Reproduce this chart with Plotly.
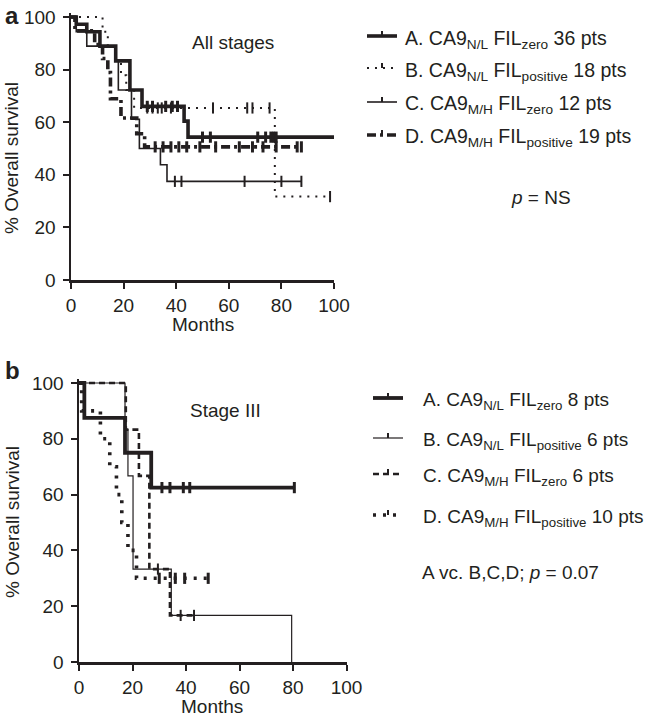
import numpy as np
import plotly.graph_objects as go

# ---------------- data: panel a (All stages) ----------------
a_A_t = [0, 2, 6, 11, 17, 22.4, 27, 43, 44.5]
a_A_s = [100, 97.2, 94.4, 88.9, 83.3, 72.2, 66.0, 60.4, 54.3]
a_A_end = 100
a_A_cens = [29, 31, 36, 38.5, 40.5, 50, 53, 71, 74, 76, 77, 78]

a_B_t = [0, 12, 14, 17, 19, 21, 24, 77.5]
a_B_s = [100, 94.4, 88.9, 83.3, 77.8, 72.2, 65.4, 31.7]
a_B_end = 98.5
a_B_cens = [29, 31, 33, 34.5, 38, 54, 67, 69, 75.5, 98.5]

a_C_t = [0, 2, 6, 17, 18, 23, 26, 34, 36.5]
a_C_s = [100, 94.4, 88.9, 83.3, 72.2, 61.1, 50.0, 43.8, 37.5]
a_C_end = 87.6
a_C_cens = [39.5, 42, 66, 80, 87.6]

a_D_t = [0, 1.5, 9, 12, 14, 15, 19, 25, 28]
a_D_s = [100, 94.7, 89.5, 84.2, 78.9, 68.9, 61.6, 55.6, 50.6]
a_D_end = 87.6
a_D_cens = [32, 35, 38, 41, 44, 49, 55, 64, 69, 73, 78, 86, 87.6]

# ---------------- data: panel b (Stage III) ----------------
b_A_t = [0, 2, 17.2, 27]
b_A_s = [100, 87.5, 75, 62.5]
b_A_end = 80.5
b_A_cens = [31, 34, 39, 41.4, 80.5]

b_B_t = [0, 17.2, 18.3, 20.2, 34.5, 79.5]
b_B_s = [100, 83.3, 66.7, 33.3, 16.7, 0]
b_B_end = 79.5
b_B_cens = []

b_C_t = [0, 17.5, 22.4, 26.3, 34]
b_C_s = [100, 83.3, 66.7, 33.3, 16.7]
b_C_end = 43
b_C_cens = [29.5, 38, 43]

b_D_t = [0, 1, 8, 11.5, 14, 16, 18.3, 21.5]
b_D_s = [100, 90, 80, 70, 60, 50, 40, 30]
b_D_end = 48.3
b_D_cens = [30, 36, 39.5, 48.3]

x_ticks = [0, 20, 40, 60, 80, 100]
y_ticks = [0, 20, 40, 60, 80, 100]

legend_a = ["A. CA9<sub>N/L</sub> FIL<sub>zero</sub> 36 pts",
            "B. CA9<sub>N/L</sub> FIL<sub>positive</sub> 18 pts",
            "C. CA9<sub>M/H</sub> FIL<sub>zero</sub> 12 pts",
            "D. CA9<sub>M/H</sub> FIL<sub>positive</sub> 19 pts"]
legend_b = ["A. CA9<sub>N/L</sub> FIL<sub>zero</sub> 8 pts",
            "B. CA9<sub>N/L</sub> FIL<sub>positive</sub> 6 pts",
            "C. CA9<sub>M/H</sub> FIL<sub>zero</sub> 6 pts",
            "D. CA9<sub>M/H</sub> FIL<sub>positive</sub> 10 pts"]

# ---------------- styling ----------------
W, H = 647, 716
INK = "#231f20"
FONT = "Liberation Sans, Arial, sans-serif"

def px(x):
    return x / W

def py(y):
    return 1 - y / H

styles_a = [dict(width=3.6, dash="solid"),
            dict(width=2.0, dash="2px,6px"),
            dict(width=1.6, dash="solid"),
            dict(width=3.6, dash="9px,4px,3px,4px")]
styles_b = [dict(width=3.8, dash="solid"),
            dict(width=1.2, dash="solid"),
            dict(width=2.6, dash="6px,4px"),
            dict(width=3.6, dash="3px,7px")]

fig = go.Figure()

def add_curve(t, s, end, cens, style, xa, ya):
    xs = list(t) + [end]
    ys = list(s) + [s[-1]]
    fig.add_trace(go.Scatter(x=xs, y=ys, mode="lines", line_shape="hv",
                             line=dict(color=INK, **style), xaxis=xa, yaxis=ya,
                             showlegend=False, hoverinfo="skip"))
    if cens:
        ta = np.array(t, dtype=float)
        idx = np.searchsorted(ta, np.array(cens, dtype=float), side="right") - 1
        cy = [s[i] for i in idx]
        fig.add_trace(go.Scatter(x=cens, y=cy, mode="markers",
                                 marker=dict(symbol="line-ns", size=8,
                                             line=dict(color=INK, width=2 if style["width"] < 3 else 3)),
                                 xaxis=xa, yaxis=ya, showlegend=False,
                                 hoverinfo="skip", cliponaxis=False))

series_a = [(a_A_t, a_A_s, a_A_end, a_A_cens), (a_B_t, a_B_s, a_B_end, a_B_cens),
            (a_C_t, a_C_s, a_C_end, a_C_cens), (a_D_t, a_D_s, a_D_end, a_D_cens)]
series_b = [(b_A_t, b_A_s, b_A_end, b_A_cens), (b_B_t, b_B_s, b_B_end, b_B_cens),
            (b_C_t, b_C_s, b_C_end, b_C_cens), (b_D_t, b_D_s, b_D_end, b_D_cens)]

for (t, s, e, c), st in zip(series_a, styles_a):
    add_curve(t, s, e, c, st, "x", "y")
for (t, s, e, c), st in zip(series_b, styles_b):
    add_curve(t, s, e, c, st, "x2", "y2")

axis_common = dict(showline=True, linewidth=2.5, linecolor=INK, ticks="outside",
                   tickwidth=2, ticklen=6, tickcolor=INK, showgrid=False,
                   zeroline=False, tickfont=dict(family=FONT, size=19, color=INK),
                   fixedrange=True, automargin=False)

fig.update_layout(
    width=W, height=H, margin=dict(l=0, r=0, t=0, b=0, pad=0), autosize=False,
    paper_bgcolor="white", plot_bgcolor="white", showlegend=False,
    font=dict(family=FONT, color=INK, size=19),
    xaxis=dict(domain=[px(71), px(334)], range=[0, 100], tickvals=x_ticks,
               anchor="y", ticklabelstandoff=1, **axis_common),
    yaxis=dict(domain=[py(280), py(13)], range=[0, 101.5], tickvals=y_ticks,
               anchor="x", ticklabelstandoff=3, **axis_common),
    xaxis2=dict(domain=[px(79), px(346.5)], range=[0, 100], tickvals=x_ticks,
                anchor="y2", ticklabelstandoff=1, **axis_common),
    yaxis2=dict(domain=[py(662), py(378.8)], range=[0, 101.5], tickvals=y_ticks,
                anchor="x2", ticklabelstandoff=3, **axis_common),
)

ann = []
def text(x, y, s, size=19, xanchor="center", yanchor="middle", angle=0, bold=False):
    ann.append(dict(x=px(x), y=py(y), xref="paper", yref="paper", text=s,
                    showarrow=False, xanchor=xanchor, yanchor=yanchor,
                    textangle=angle,
                    font=dict(family=FONT, size=size, color=INK,
                              weight="bold" if bold else "normal")))

text(3, 0, "a", size=24, xanchor="left", yanchor="top", bold=True)
text(3, 355, "b", size=24, xanchor="left", yanchor="top", bold=True)
text(233, 43, "All stages")
text(226, 410, "Stage III")
text(541, 197, "<i>p</i> = NS")
text(510, 572, "A vc. B,C,D; <i>p</i> = 0.07")
text(203, 324, "Months")
text(212, 706, "Months")
text(12, 158, "% Overall survival", angle=-90)
text(12, 522, "% Overall survival", angle=-90)

rows_a = [36, 68, 102, 135]
rows_b = [398, 438, 474, 515]
shapes = []
for lab, yy, st in zip(legend_a, rows_a, styles_a):
    text(403, yy + 3, lab, size=19.5, xanchor="left")
    shapes.append(dict(type="line", xref="paper", yref="paper", x0=px(367), x1=px(397),
                       y0=py(yy), y1=py(yy), line=dict(color=INK, **st)))
    shapes.append(dict(type="line", xref="paper", yref="paper", x0=px(382), x1=px(382),
                       y0=py(yy), y1=py(yy - 5), line=dict(color=INK, width=2)))
for lab, yy, st in zip(legend_b, rows_b, styles_b):
    text(421, yy + 3, lab, size=19, xanchor="left")
    shapes.append(dict(type="line", xref="paper", yref="paper", x0=px(373), x1=px(403),
                       y0=py(yy), y1=py(yy), line=dict(color=INK, **st)))
    shapes.append(dict(type="line", xref="paper", yref="paper", x0=px(388), x1=px(388),
                       y0=py(yy), y1=py(yy - 5), line=dict(color=INK, width=2)))

fig.update_layout(annotations=ann, shapes=shapes)
fig.write_html("out.html", config={"displayModeBar": False, "staticPlot": True},
               post_script="document.body.style.margin='0';document.body.style.overflow='hidden';")
